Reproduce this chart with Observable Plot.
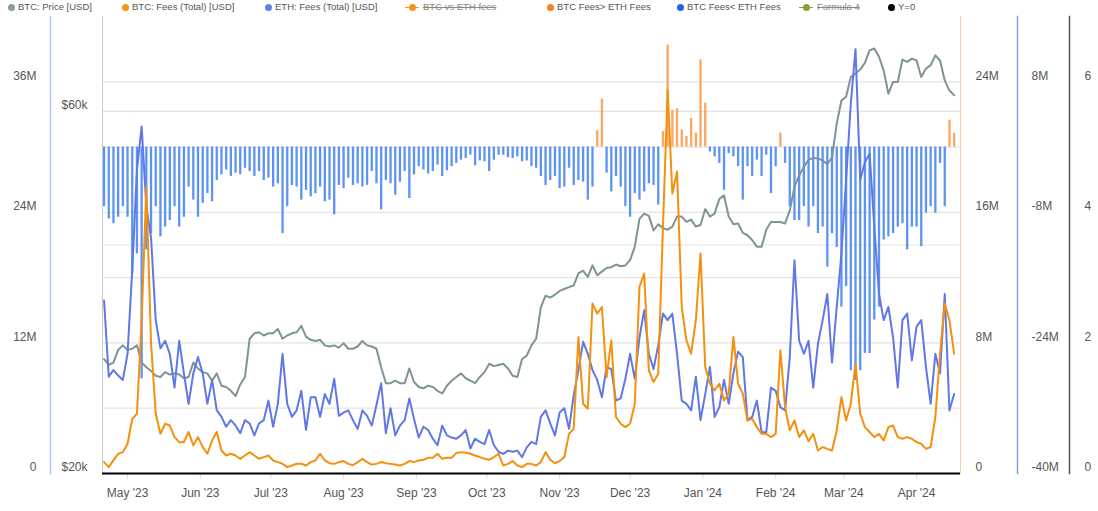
<!DOCTYPE html>
<html><head><meta charset="utf-8">
<script src="https://cdn.jsdelivr.net/npm/d3@7"></script>
<script src="https://cdn.jsdelivr.net/npm/@observablehq/plot@0.6"></script>
<style>
body{margin:0;background:#fff;font-family:"Liberation Sans",Arial,sans-serif;}
#wrap{position:relative;width:1098px;height:511px;overflow:hidden;background:#fff;}
#legend{position:absolute;left:0;top:0;width:1098px;height:14px;font-size:9.5px;color:#555;}
.lt{position:absolute;top:0;height:14px;line-height:14px;white-space:nowrap;}
.dot{position:absolute;top:3.5px;width:7px;height:7px;border-radius:50%;}
.sym{position:absolute;top:6.5px;width:14px;height:1.2px;}
#stack{position:absolute;top:14px;left:0;width:1098px;height:497px;}
#stack svg{position:absolute;left:0;top:0;}
</style></head><body>
<div id="wrap"><div id="legend"></div><div id="stack"></div></div>
<script>
// ---- data: one value every 2 days starting 2023-04-21 ----
const startDate = "2023-04-21";
const stepDays = 2;
// BTC price, thousands of USD
const btcPrice = [
28.3,27.8,28.0,29.1,29.5,29.1,29.2,29.5,28.0,27.6,27.3,26.9,26.8,27.2,27.0,27.1,27.0,26.7,26.8,28.0,27.5,27.2,27.1,26.5,27.1,26.1,26.0,25.7,25.3,26.2,26.8,30.1,30.6,30.7,30.4,30.6,30.6,31.0,30.1,30.4,30.6,30.7,31.3,30.3,30.0,29.9,
30.0,29.5,29.4,29.5,29.3,29.7,29.2,29.2,29.4,29.9,29.5,29.4,29.2,27.6,26.3,26.3,26.5,26.3,26.3,27.5,26.4,26.0,25.9,26.1,26.0,25.7,25.5,26.1,26.5,26.8,27.1,26.7,26.5,26.3,26.8,27.2,27.9,27.7,27.8,27.9,27.5,26.9,26.8,28.3,28.6,29.5,
30.1,33.1,34.3,34.1,34.4,34.8,35.0,35.2,35.4,36.7,37.0,36.3,37.6,36.5,36.9,37.3,37.4,37.7,37.5,37.6,38.2,39.8,43.3,44.0,43.7,41.8,42.6,42.1,41.9,42.3,43.6,43.6,42.9,43.2,42.3,42.5,44.6,43.6,44.0,46.0,46.5,43.6,42.6,42.7,41.5,41.2,
40.6,39.8,39.8,41.9,42.9,42.9,42.9,42.7,44.4,47.7,49.4,50.7,51.8,52.1,52.0,51.7,51.1,52.2,57.8,62.0,62.7,66.6,67.3,68.1,69.5,72.2,72.6,70.8,67.9,63.3,65.6,65.6,70.2,69.7,70.4,70.0,66.6,68.3,69.0,71.1,70.0,65.9,63.9,63.0];
// BTC fees (total), millions of USD
const btcFees = [
0.7,0.39,0.8,1.21,1.31,1.82,3.35,3.66,9.39,17.57,8.0,3.66,2.43,3.05,2.94,2.23,1.92,1.92,2.54,1.72,2.23,1.62,1.21,2.02,2.54,1.41,1.1,1.21,1.1,0.9,1.1,1.31,1.1,0.9,1.0,1.1,0.8,0.7,0.6,0.39,0.49,0.6,0.6,0.49,0.7,0.8,
1.21,0.8,0.63,0.59,0.7,0.76,0.59,0.51,0.7,0.9,0.7,0.55,0.59,0.7,0.63,0.59,0.55,0.49,0.59,0.76,0.7,0.8,0.84,0.96,0.96,1.21,0.9,0.96,0.96,1.25,1.31,1.27,1.21,1.1,1.0,0.9,0.84,1.0,1.21,0.49,0.59,0.76,0.49,0.39,0.59,0.59,
0.49,0.7,1.31,0.84,0.63,0.76,1.0,2.43,2.74,8.36,4.27,3.97,10.41,9.8,10.2,5.91,8.16,3.46,3.05,2.84,3.05,4.27,11.43,12.25,6.32,5.6,6.11,15.11,23.5,17.16,18.49,10.2,8.16,7.34,9.39,13.48,6.52,5.5,5.09,5.5,4.48,4.89,8.36,5.5,4.89,3.25,
3.35,2.84,2.43,2.43,2.23,2.43,7.55,4.07,2.64,3.25,2.23,2.64,1.98,2.43,1.41,1.62,1.51,1.41,2.64,4.68,3.25,4.27,6.73,3.66,2.84,2.54,2.23,2.43,2.02,2.84,2.94,2.23,2.13,2.23,2.13,1.92,1.82,1.51,1.62,3.46,7.34,10.41,9.39,7.34];
// ETH fees (total), millions of USD
const ethFees = [
15.9,8.9,9.5,9.0,8.6,11.0,18.7,27.9,31.9,24.5,21.7,14.1,11.5,12.2,11.0,7.9,12.2,9.2,6.4,9.2,10.7,9.2,6.4,8.6,5.8,5.2,4.3,4.9,4.4,3.7,4.9,4.6,3.5,4.6,4.9,6.7,4.3,6.4,11.0,6.4,5.2,5.8,7.6,4.0,7.0,7.0,
5.2,7.3,6.4,8.7,5.3,5.6,5.8,4.9,4.1,5.8,5.3,4.4,6.3,8.3,3.7,6.0,3.5,4.4,4.9,6.9,5.0,3.3,4.3,4.0,3.2,2.6,4.4,3.5,3.3,3.2,3.5,4.0,2.3,3.2,2.9,2.7,4.0,2.6,2.0,1.8,2.1,2.0,2.1,1.5,2.4,2.9,
2.7,5.2,5.8,4.6,3.5,5.6,6.0,4.1,7.2,9.5,12.1,11.0,9.5,8.6,7.0,9.8,9.6,6.7,6.9,8.7,11.0,8.7,12.5,15.0,11.0,9.6,11.8,14.7,14.1,14.7,11.0,6.7,6.4,5.8,8.9,4.9,7.3,9.8,5.2,6.1,8.6,6.4,9.2,11.2,10.7,4.9,
5.2,6.7,3.8,3.8,7.9,7.6,6.1,5.8,10.7,19.6,12.2,11.0,12.2,7.9,11.9,14.1,16.5,10.2,15.3,20.2,27.0,34.0,39.0,27.0,28.6,29.4,22.7,16.5,14.1,15.3,12.5,7.9,14.1,14.7,10.4,13.5,14.1,9.8,6.4,11.0,9.2,16.5,5.8,7.3];
// BTC vs ETH fees (bars), millions of USD
const feeGap = [
-7.3,-8.8,-9.4,-8.6,-7.3,-8.6,-15.5,-13.1,-28.4,-12.6,-10.6,-7.3,-11.0,-9.8,-9.0,-7.3,-9.8,-8.6,-4.9,-6.5,-8.6,-6.9,-5.7,-6.7,-4.1,-3.4,-2.8,-3.6,-3.2,-3.4,-2.6,-3.0,-3.6,-3.0,-4.1,-3.8,-4.9,-4.5,-10.6,-7.3,-4.7,-4.9,-6.5,-5.3,-6.1,-5.7,
-4.9,-6.7,-6.5,-8.3,-4.7,-5.1,-3.8,-4.7,-4.5,-4.9,-4.7,-3.0,-4.5,-7.7,-4.1,-4.5,-5.9,-4.3,-3.0,-6.3,-3.4,-2.4,-2.8,-3.3,-3.0,-2.2,-3.6,-2.9,-2.4,-2.0,-1.6,-1.4,-1.0,-2.3,-1.7,-1.8,-3.0,-1.6,-1.0,-1.0,-1.3,-1.4,-1.2,-1.8,-1.7,-2.4,
-2.6,-3.6,-4.7,-4.1,-3.6,-5.1,-4.9,-2.6,-4.7,-4.1,-4.3,-6.5,-4.9,2.0,5.9,-3.2,-5.5,-3.6,-4.9,-7.3,-8.6,-5.7,-6.5,-5.5,-4.5,-4.7,-7.1,1.9,12.5,4.5,4.7,2.1,1.3,3.5,1.7,10.7,5.4,-0.6,-1.2,-2.0,-5.3,-0.8,-1.2,-2.4,-6.5,-2.4,
-3.6,-1.6,-3.6,-1.0,-5.7,-2.4,1.7,-2.0,-7.3,-9.0,-9.0,-7.3,-9.8,-7.3,-10.6,-9.8,-14.7,-10.6,-12.3,-19.6,-17.1,-27.4,-28.6,-27.4,-25.3,-25.3,-21.2,-19.6,-11.4,-11.0,-10.6,-9.8,-9.4,-12.6,-9.8,-9.8,-12.2,-8.1,-7.3,-8.1,-2.0,-7.3,3.3,1.7];

// axis ticks
const ethTicks = [0, 12, 24, 36];
const priceTicks = [20, 60];
const priceGrid = [40, 60];
const btcTicks = [0, 8, 16, 24];
const gapTicks = [-40, -24, -8, 8];
const gapGrid = [-32, -24, -16, -8, 0, 8];
const ratioTicks = [0, 2, 4, 6];

// legend
const legendLabels = ["BTC: Price [USD]","BTC: Fees (Total) [USD]","ETH: Fees (Total) [USD]","BTC vs ETH fees","BTC Fees> ETH Fees","BTC Fees< ETH Fees","Formula 4","Y=0"];
const legendColors = ["#8a9b9d","#f7931a","#627eea","#f7931a","#fb7d24","#1f5ff2","#8c9c3a","#000000"];
const legendHidden = [false,false,false,true,false,false,true,false];

// colours
const C = {price:"#7e9396", btc:"#f5900f", eth:"#6078e6", barNeg:"#3f80f2", barPos:"#fa9137"};

// ---- build rows ----
const t0 = d3.utcParse("%Y-%m-%d")(startDate);
const rows = btcPrice.map((p, i) => ({
  date: d3.utcDay.offset(t0, i * stepDays),
  price: p * 1000, btc: btcFees[i] * 1e6, eth: ethFees[i] * 1e6, gap: feeGap[i] * 1e6
}));

// ---- legend ----
const legendX = [11,125,268,412,550,680,806,891];
const leg = document.getElementById("legend");
legendLabels.forEach((lab, i) => {
  const cx = legendX[i];
  if (legendHidden[i]) {
    const s = document.createElement("div"); s.className = "sym";
    s.style.left = (cx - 7) + "px"; s.style.background = legendColors[i]; leg.append(s);
  }
  const d = document.createElement("div"); d.className = "dot";
  d.style.left = (cx - 3.5) + "px"; d.style.background = legendColors[i]; leg.append(d);
  const t = document.createElement("div"); t.className = "lt";
  t.style.left = (cx + (legendHidden[i] ? 11 : 7)) + "px";
  t.textContent = lab;
  if (legendHidden[i]) { t.style.textDecoration = "line-through"; t.style.color = "#888"; }
  leg.append(t);
});

// ---- plots ----
const W = 1098, H = 497, MT = 2, MB = 38, ML = 102, MR = 138;
const xDomain = [new Date(Date.UTC(2023,3,20,8)), new Date(Date.UTC(2024,3,19,17))];
const style = {background:"transparent", fontFamily:"'Liberation Sans', Arial, sans-serif", fontSize:"12px", color:"#555", overflow:"visible"};
const stack = document.getElementById("stack");
const fmtM = d => d === 0 ? "0" : (d / 1e6) + "M";
const add = (opts) => stack.append(Plot.plot(Object.assign({width:W, height:H, marginTop:MT, marginBottom:MB, style}, opts)));
const main = (opts) => add(Object.assign({marginLeft:ML, marginRight:MR, x:{type:"utc", domain:xDomain, axis:null}}, opts));

// price grid
main({y:{type:"log", domain:[20000, 80000], axis:null},
  marks:[Plot.ruleY(priceGrid.map(v => v * 1000), {stroke:"#e4e4e4", strokeWidth:1.2})]});

// bar grid, x axis, bars
const monthTicks = d3.utcMonth.range(new Date(Date.UTC(2023,4,1)), new Date(Date.UTC(2024,3,2)));
main({x:{type:"utc", domain:xDomain}, y:{domain:[-40e6, 16e6], axis:null},
  marks:[
    Plot.ruleY(gapGrid.map(v => v * 1e6), {stroke:"#e4e4e4", strokeWidth:1.2}),
    Plot.axisX({ticks:monthTicks, tickFormat:d3.utcFormat("%b '%y"), tickSize:6, tickPadding:9, stroke:"#dcdcdc", fill:"#555", fontSize:12, label:null}),
    Plot.ruleX(rows.filter(d => d.gap < 0), {x:"date", y1:0, y2:"gap", stroke:C.barNeg, strokeWidth:2.3, strokeOpacity:0.85}),
    Plot.ruleX(rows.filter(d => d.gap > 0), {x:"date", y1:0, y2:"gap", stroke:C.barPos, strokeWidth:2.3, strokeOpacity:0.8})
  ]});

// price line + axis
main({y:{type:"log", domain:[20000, 80000]},
  marks:[
    Plot.frame({anchor:"left", stroke:"#c8c8c8"}),
    Plot.axisY({anchor:"left", ticks:priceTicks.map(v => v * 1000), tickFormat:d => "$" + d / 1000 + "k", tickSize:0, tickPadding:15, dy:-6, fill:"#555", label:null}),
    Plot.line(rows, {x:"date", y:"price", stroke:C.price, strokeWidth:2})
  ]});

// ETH line
main({y:{domain:[0, 42e6], axis:null},
  marks:[Plot.line(rows, {x:"date", y:"eth", stroke:C.eth, strokeWidth:2})]});

// BTC line + axis
main({y:{domain:[0, 28e6]},
  marks:[
    Plot.frame({anchor:"right", stroke:"#f8d3ae"}),
    Plot.axisY({anchor:"right", ticks:btcTicks.map(v => v * 1e6), tickFormat:fmtM, tickSize:0, tickPadding:15, dy:-6, fill:"#555", label:null}),
    Plot.line(rows, {x:"date", y:"btc", stroke:C.btc, strokeWidth:2})
  ]});

// Y=0 line
main({y:{domain:[0, 7], axis:null},
  marks:[Plot.ruleY([0], {stroke:"#000", strokeWidth:2})]});

// ETH axis (far left)
add({marginLeft:50, marginRight:MR, y:{domain:[0, 42e6]},
  marks:[
    Plot.frame({anchor:"left", stroke:"#b0c4f7", strokeWidth:1.5}),
    Plot.axisY({anchor:"left", ticks:ethTicks.map(v => v * 1e6), tickFormat:fmtM, tickSize:0, tickPadding:14, dy:-6, fill:"#555", label:null})
  ]});

// bar axis
add({marginLeft:ML, marginRight:W - 1017, y:{domain:[-40e6, 16e6]},
  marks:[
    Plot.frame({anchor:"right", stroke:"#7ea5f5", strokeWidth:1.5}),
    Plot.axisY({anchor:"right", ticks:gapTicks.map(v => v * 1e6), tickFormat:d => (d / 1e6) + "M", tickSize:0, tickPadding:14, dy:-6, fill:"#555", label:null})
  ]});

// ratio axis
add({marginLeft:ML, marginRight:W - 1069, y:{domain:[0, 7]},
  marks:[
    Plot.frame({anchor:"right", stroke:"#555", strokeWidth:1.5}),
    Plot.axisY({anchor:"right", ticks:ratioTicks, tickFormat:d => String(d), tickSize:0, tickPadding:15, dy:-6, fill:"#555", label:null})
  ]});
</script>
</body></html>
